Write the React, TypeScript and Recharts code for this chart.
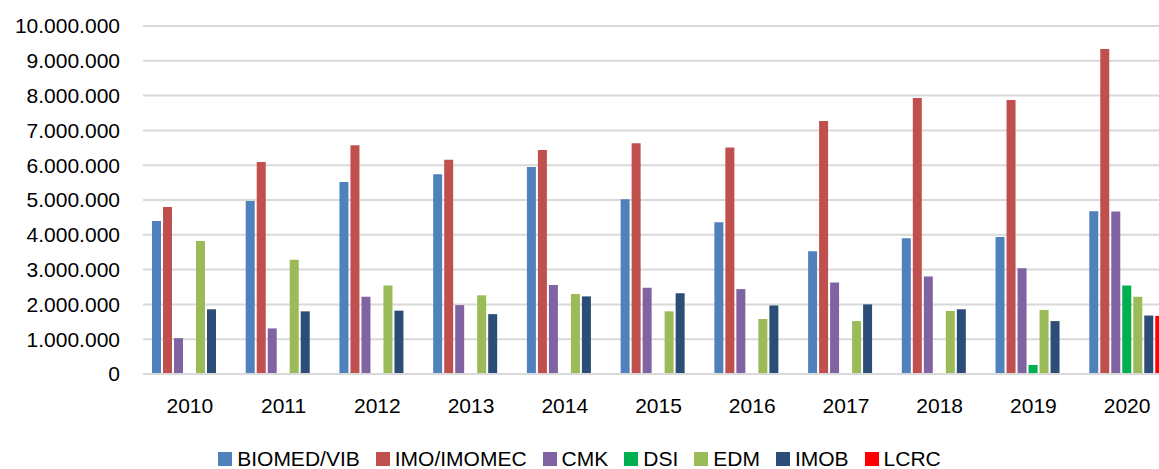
import { BarChart, Bar, XAxis, YAxis, CartesianGrid, Legend } from "recharts";

const years = ["2010", "2011", "2012", "2013", "2014", "2015", "2016", "2017", "2018", "2019", "2020"];

const biomedVib = [4400000, 4970000, 5520000, 5740000, 5950000, 5020000, 4360000, 3530000, 3900000, 3940000, 4680000];
const imoImomec = [4800000, 6090000, 6570000, 6160000, 6440000, 6630000, 6510000, 7270000, 7930000, 7870000, 9340000];
const cmk = [1030000, 1310000, 2220000, 1980000, 2560000, 2480000, 2440000, 2630000, 2800000, 3040000, 4670000];
const dsi = [null, null, null, null, null, null, null, null, null, 260000, 2540000];
const edm = [3820000, 3280000, 2540000, 2260000, 2300000, 1800000, 1580000, 1520000, 1810000, 1840000, 2220000];
const imob = [1860000, 1800000, 1820000, 1720000, 2230000, 2320000, 1970000, 2000000, 1860000, 1520000, 1680000];
const lcrc = [null, null, null, null, null, null, null, null, null, null, 1670000];

const yTicks = [0, 1000000, 2000000, 3000000, 4000000, 5000000, 6000000, 7000000, 8000000, 9000000, 10000000];

const series = [
  { key: "BIOMED/VIB", values: biomedVib, color: "#4f81bd" },
  { key: "IMO/IMOMEC", values: imoImomec, color: "#c0504d" },
  { key: "CMK", values: cmk, color: "#8064a2" },
  { key: "DSI", values: dsi, color: "#00b050" },
  { key: "EDM", values: edm, color: "#9bbb59" },
  { key: "IMOB", values: imob, color: "#2c4d75" },
  { key: "LCRC", values: lcrc, color: "#ff0000" },
];

const data = years.map((year, i) => {
  const row: Record<string, string | number | null> = { year };
  series.forEach((s) => {
    row[s.key] = s.values[i];
  });
  return row;
});

const font = "'Liberation Sans', Arial, sans-serif";

function formatNumber(v: number) {
  return String(v).replace(/\B(?=(\d{3})+(?!\d))/g, ".");
}

function LegendContent() {
  return (
    <div
      style={{
        height: 55,
        boxSizing: "border-box",
        paddingTop: 35,
        display: "flex",
        justifyContent: "center",
        alignItems: "center",
        fontFamily: font,
        fontSize: 21,
        color: "#000",
      }}
    >
      {series.map((s, i) => (
        <div
          key={s.key}
          style={{ display: "flex", alignItems: "center", marginRight: i === series.length - 1 ? 0 : 16 }}
        >
          <span style={{ width: 14, height: 14, background: s.color, display: "inline-block", marginRight: 5 }} />
          <span style={{ lineHeight: "22px" }}>{s.key}</span>
        </div>
      ))}
    </div>
  );
}

export default function App() {
  return (
    <div style={{ position: "fixed", left: 0, top: 0, width: 1159, height: 469, overflow: "hidden", background: "#fff" }}>
      <BarChart
        width={1174}
        height={469}
        data={data}
        margin={{ top: 26, right: 0, bottom: 0, left: 0 }}
        barSize={9}
        barGap={2}
      >
        <CartesianGrid vertical={false} stroke="#d9d9d9" strokeWidth={2} />
        <XAxis
          dataKey="year"
          height={40}
          tickLine={false}
          tickSize={0}
          tickMargin={24}
          axisLine={{ stroke: "#d9d9d9", strokeWidth: 2 }}
          tick={{ fontSize: 21, fill: "#000", fontFamily: font }}
          interval={0}
        />
        <YAxis
          width={143}
          domain={[0, 10000000]}
          ticks={yTicks}
          interval={0}
          axisLine={false}
          tickLine={false}
          tickSize={0}
          tickMargin={23}
          tickFormatter={(v) => formatNumber(Number(v))}
          tick={{ fontSize: 21, fill: "#000", fontFamily: font }}
        />
        <Legend
          verticalAlign="bottom"
          content={<LegendContent />}
          wrapperStyle={{ left: 0, width: 1159, height: 55 }}
        />
        {series.map((s) => (
          <Bar key={s.key} dataKey={s.key} fill={s.color} isAnimationActive={false} />
        ))}
      </BarChart>
    </div>
  );
}
